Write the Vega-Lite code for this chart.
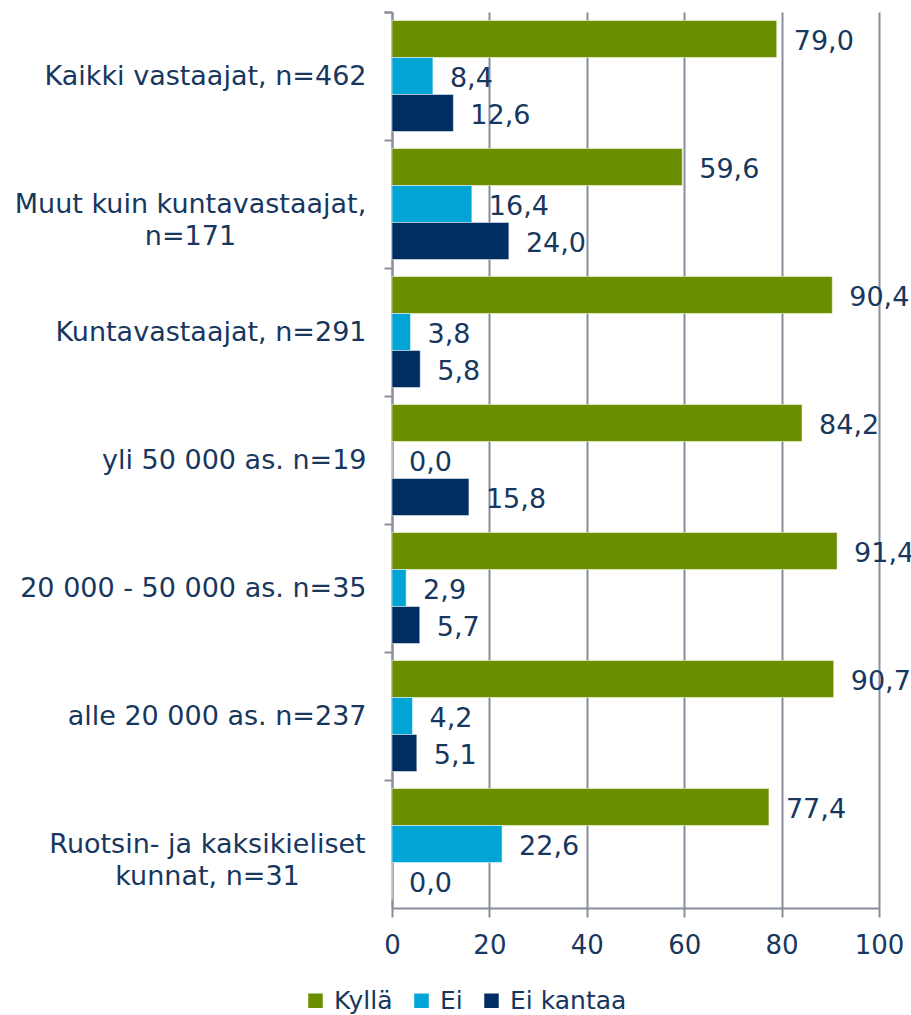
{
  "$schema": "https://vega.github.io/schema/vega-lite/v6.json",
  "autosize": {"type": "none"},
  "width": 487,
  "height": 896,
  "padding": {"left": 392, "top": 12, "right": 32, "bottom": 107},
  "background": "white",
  "config": {
    "locale": {"number": {"decimal": ",", "thousands": " ", "grouping": [3], "currency": ["", " €"]}},
    "font": "DejaVu Sans",
    "view": {"stroke": null}
  },
  "data": {
    "values": [
      {"ryhma": "Kaikki vastaajat, n=462", "vastaus": "Kyllä", "osuus": 79.0},
      {"ryhma": "Kaikki vastaajat, n=462", "vastaus": "Ei", "osuus": 8.4},
      {"ryhma": "Kaikki vastaajat, n=462", "vastaus": "Ei kantaa", "osuus": 12.6},
      {"ryhma": "Muut kuin kuntavastaajat,|n=171", "vastaus": "Kyllä", "osuus": 59.6},
      {"ryhma": "Muut kuin kuntavastaajat,|n=171", "vastaus": "Ei", "osuus": 16.4},
      {"ryhma": "Muut kuin kuntavastaajat,|n=171", "vastaus": "Ei kantaa", "osuus": 24.0},
      {"ryhma": "Kuntavastaajat, n=291", "vastaus": "Kyllä", "osuus": 90.4},
      {"ryhma": "Kuntavastaajat, n=291", "vastaus": "Ei", "osuus": 3.8},
      {"ryhma": "Kuntavastaajat, n=291", "vastaus": "Ei kantaa", "osuus": 5.8},
      {"ryhma": "yli 50 000 as. n=19", "vastaus": "Kyllä", "osuus": 84.2},
      {"ryhma": "yli 50 000 as. n=19", "vastaus": "Ei", "osuus": 0.0},
      {"ryhma": "yli 50 000 as. n=19", "vastaus": "Ei kantaa", "osuus": 15.8},
      {"ryhma": "20 000 - 50 000 as. n=35", "vastaus": "Kyllä", "osuus": 91.4},
      {"ryhma": "20 000 - 50 000 as. n=35", "vastaus": "Ei", "osuus": 2.9},
      {"ryhma": "20 000 - 50 000 as. n=35", "vastaus": "Ei kantaa", "osuus": 5.7},
      {"ryhma": "alle 20 000 as. n=237", "vastaus": "Kyllä", "osuus": 90.7},
      {"ryhma": "alle 20 000 as. n=237", "vastaus": "Ei", "osuus": 4.2},
      {"ryhma": "alle 20 000 as. n=237", "vastaus": "Ei kantaa", "osuus": 5.1},
      {"ryhma": "Ruotsin- ja kaksikieliset|kunnat, n=31", "vastaus": "Kyllä", "osuus": 77.4},
      {"ryhma": "Ruotsin- ja kaksikieliset|kunnat, n=31", "vastaus": "Ei", "osuus": 22.6},
      {"ryhma": "Ruotsin- ja kaksikieliset|kunnat, n=31", "vastaus": "Ei kantaa", "osuus": 0.0}
    ]
  },
  "encoding": {
    "y": {
      "field": "ryhma", "type": "nominal", "sort": null,
      "scale": {"paddingInner": 0, "paddingOuter": 0},
      "axis": {
        "title": null,
        "labelExpr": "split(datum.label, '|')",
        "labelFont": "DejaVu Sans", "labelFontSize": 27, "labelColor": "#17375E",
        "labelLineHeight": 32, "labelPadding": 18, "labelLimit": 400,
        "bandPosition": 0, "tickExtra": true, "tickSize": 8,
        "tickColor": "#8A8D9C", "tickWidth": 2,
        "domainColor": "#8A8D9C", "domainWidth": 2,
        "labelOffset": 1,
        "labelAlign": {"condition": {"test": "indexof(datum.label, '|') >= 0", "value": "center"}, "value": "right"},
        "encoding": {
          "labels": {
            "dx": {
              "condition": [
                {"test": "indexof(datum.label, 'Muut') >= 0", "value": -176},
                {"test": "indexof(datum.label, 'Ruotsin') >= 0", "value": -159}
              ],
              "value": 0
            }
          }
        }
      }
    },
    "yOffset": {
      "field": "vastaus", "type": "nominal", "sort": ["Kyllä", "Ei", "Ei kantaa"],
      "scale": {"paddingInner": 0, "paddingOuter": 0.23}
    },
    "x": {
      "field": "osuus", "type": "quantitative",
      "scale": {"domain": [0, 100], "nice": false},
      "axis": {
        "title": null, "values": [0, 20, 40, 60, 80, 100],
        "grid": true, "gridColor": "#8A8D9C", "gridWidth": 2,
        "domainColor": "#8A8D9C", "domainWidth": 2,
        "tickColor": "#8A8D9C", "tickWidth": 2, "tickSize": 9,
        "labelFont": "DejaVu Sans", "labelFontSize": 26, "labelColor": "#17375E",
        "labelPadding": 15, "labelFlush": false
      }
    }
  },
  "layer": [
    {
      "mark": {"type": "bar", "stroke": "white", "strokeWidth": 0.5},
      "encoding": {
        "color": {
          "field": "vastaus", "type": "nominal",
          "sort": ["Kyllä", "Ei", "Ei kantaa"],
          "scale": {"domain": ["Kyllä", "Ei", "Ei kantaa"], "range": ["#6B8E00", "#00A5D6", "#002D62"]},
          "legend": {
            "title": null, "orient": "none", "direction": "horizontal",
            "legendX": -89, "legendY": 976,
            "symbolType": "square", "symbolSize": 210, "symbolStrokeWidth": 0,
            "labelFont": "DejaVu Sans", "labelFontSize": 25, "labelColor": "#17375E",
            "labelOffset": 6, "columnPadding": 16
          }
        }
      }
    },
    {
      "mark": {"type": "text", "align": "left", "baseline": "middle", "dx": 17, "dy": 3,
               "font": "DejaVu Sans", "fontSize": 27, "color": "#17375E"},
      "encoding": {
        "text": {"field": "osuus", "type": "quantitative", "format": ".1f"}
      }
    }
  ]
}
